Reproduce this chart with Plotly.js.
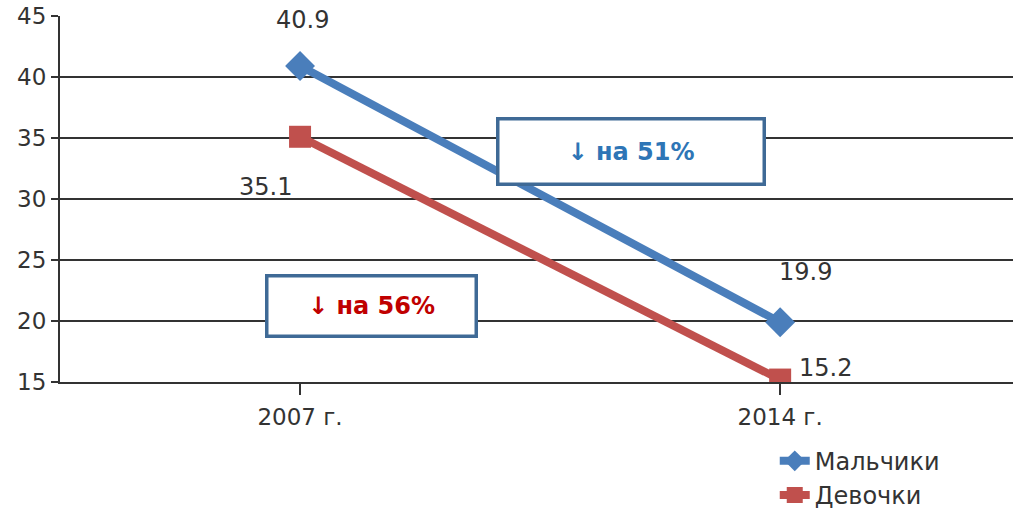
<!DOCTYPE html>
<html><head><meta charset="utf-8">
<script src="https://cdn.plot.ly/plotly-3.0.1.min.js"></script>
<style>html,body{margin:0;padding:0;background:#fff}#chart{width:1013px;height:513px}</style>
</head><body><div id="chart"></div>
<script>
const categories = ["2007 г.", "2014 г."];
const boys = [40.9, 19.9];
const girls = [35.1, 15.2];
const seriesNames = ["Мальчики", "Девочки"];
const yTicks = [15, 20, 25, 30, 35, 40, 45];
const notes = [
  {text: "↓ на 51%", x: 0.69, y: 33.93, w: 263, h: 62, color: "#2E75B6"},
  {text: "↓ на 56%", x: 0.148, y: 21.2, w: 206, h: 57, color: "#C00000"}
];

const font = "DejaVu Sans, sans-serif";
const traces = [
  {x: [0, 1], y: boys, name: seriesNames[0], type: "scatter", mode: "lines+markers",
   line: {color: "#4A7EBB", width: 8}, marker: {symbol: "diamond", size: 23, color: "#4A7EBB"}},
  {x: [0, 1], y: girls, name: seriesNames[1], type: "scatter", mode: "lines+markers",
   line: {color: "#C0504D", width: 8}, marker: {symbol: "square", size: 22, color: "#C0504D"}}
];

const labelShifts = {
  b: [[2, 46], [25, 50]],
  g: [[-35, -50], [45, 12]]
};
const annotations = [];
boys.forEach((v, i) => annotations.push({x: i, y: v, xref: "x", yref: "y", text: String(v), showarrow: false,
  xshift: labelShifts.b[i][0], yshift: labelShifts.b[i][1], font: {family: font, size: 24, color: "#333"}}));
girls.forEach((v, i) => annotations.push({x: i, y: v, xref: "x", yref: "y", text: String(v), showarrow: false,
  xshift: labelShifts.g[i][0], yshift: labelShifts.g[i][1], font: {family: font, size: 24, color: "#333"}}));
notes.forEach(n => annotations.push({x: n.x, y: n.y, xref: "x", yref: "y", text: "<b>" + n.text + "</b>",
  showarrow: false, width: n.w, height: n.h, bgcolor: "#fff", bordercolor: "#3F6A96", borderwidth: 3.5, borderpad: 0,
  font: {family: font, size: 24, color: n.color}}));

const layout = {
  width: 1013, height: 513,
  margin: {l: 60, r: 0, t: 16, b: 131, autoexpand: false},
  paper_bgcolor: "#fff", plot_bgcolor: "#fff",
  font: {family: font, color: "#333"},
  showlegend: true,
  legend: {x: 0.75, y: -0.155, xanchor: "left", yanchor: "top", orientation: "v",
    font: {family: font, size: 24, color: "#333"}, bgcolor: "rgba(0,0,0,0)", tracegroupgap: 0, itemwidth: 30},
  xaxis: {range: [-0.5, 1.485], tickvals: [0, 1], ticktext: categories, tickson: "boundaries",
    ticks: "outside", ticklen: 11, tickcolor: "#333", tickwidth: 1.5,
    showgrid: false, zeroline: false, showline: true, linecolor: "#333", linewidth: 1.5,
    tickfont: {family: font, size: 23, color: "#333"}, ticklabelstandoff: 3, fixedrange: true},
  yaxis: {range: [15, 45], tickvals: yTicks, ticks: "outside", ticklen: 7, tickcolor: "#333", tickwidth: 1.5,
    showgrid: true, gridcolor: "#333", gridwidth: 1.5, zeroline: false, showline: true, linecolor: "#333", linewidth: 2,
    tickfont: {family: font, size: 23, color: "#333"}, fixedrange: true},
  annotations: annotations
};
Plotly.newPlot("chart", traces, layout, {displayModeBar: false, staticPlot: true});
</script></body></html>
